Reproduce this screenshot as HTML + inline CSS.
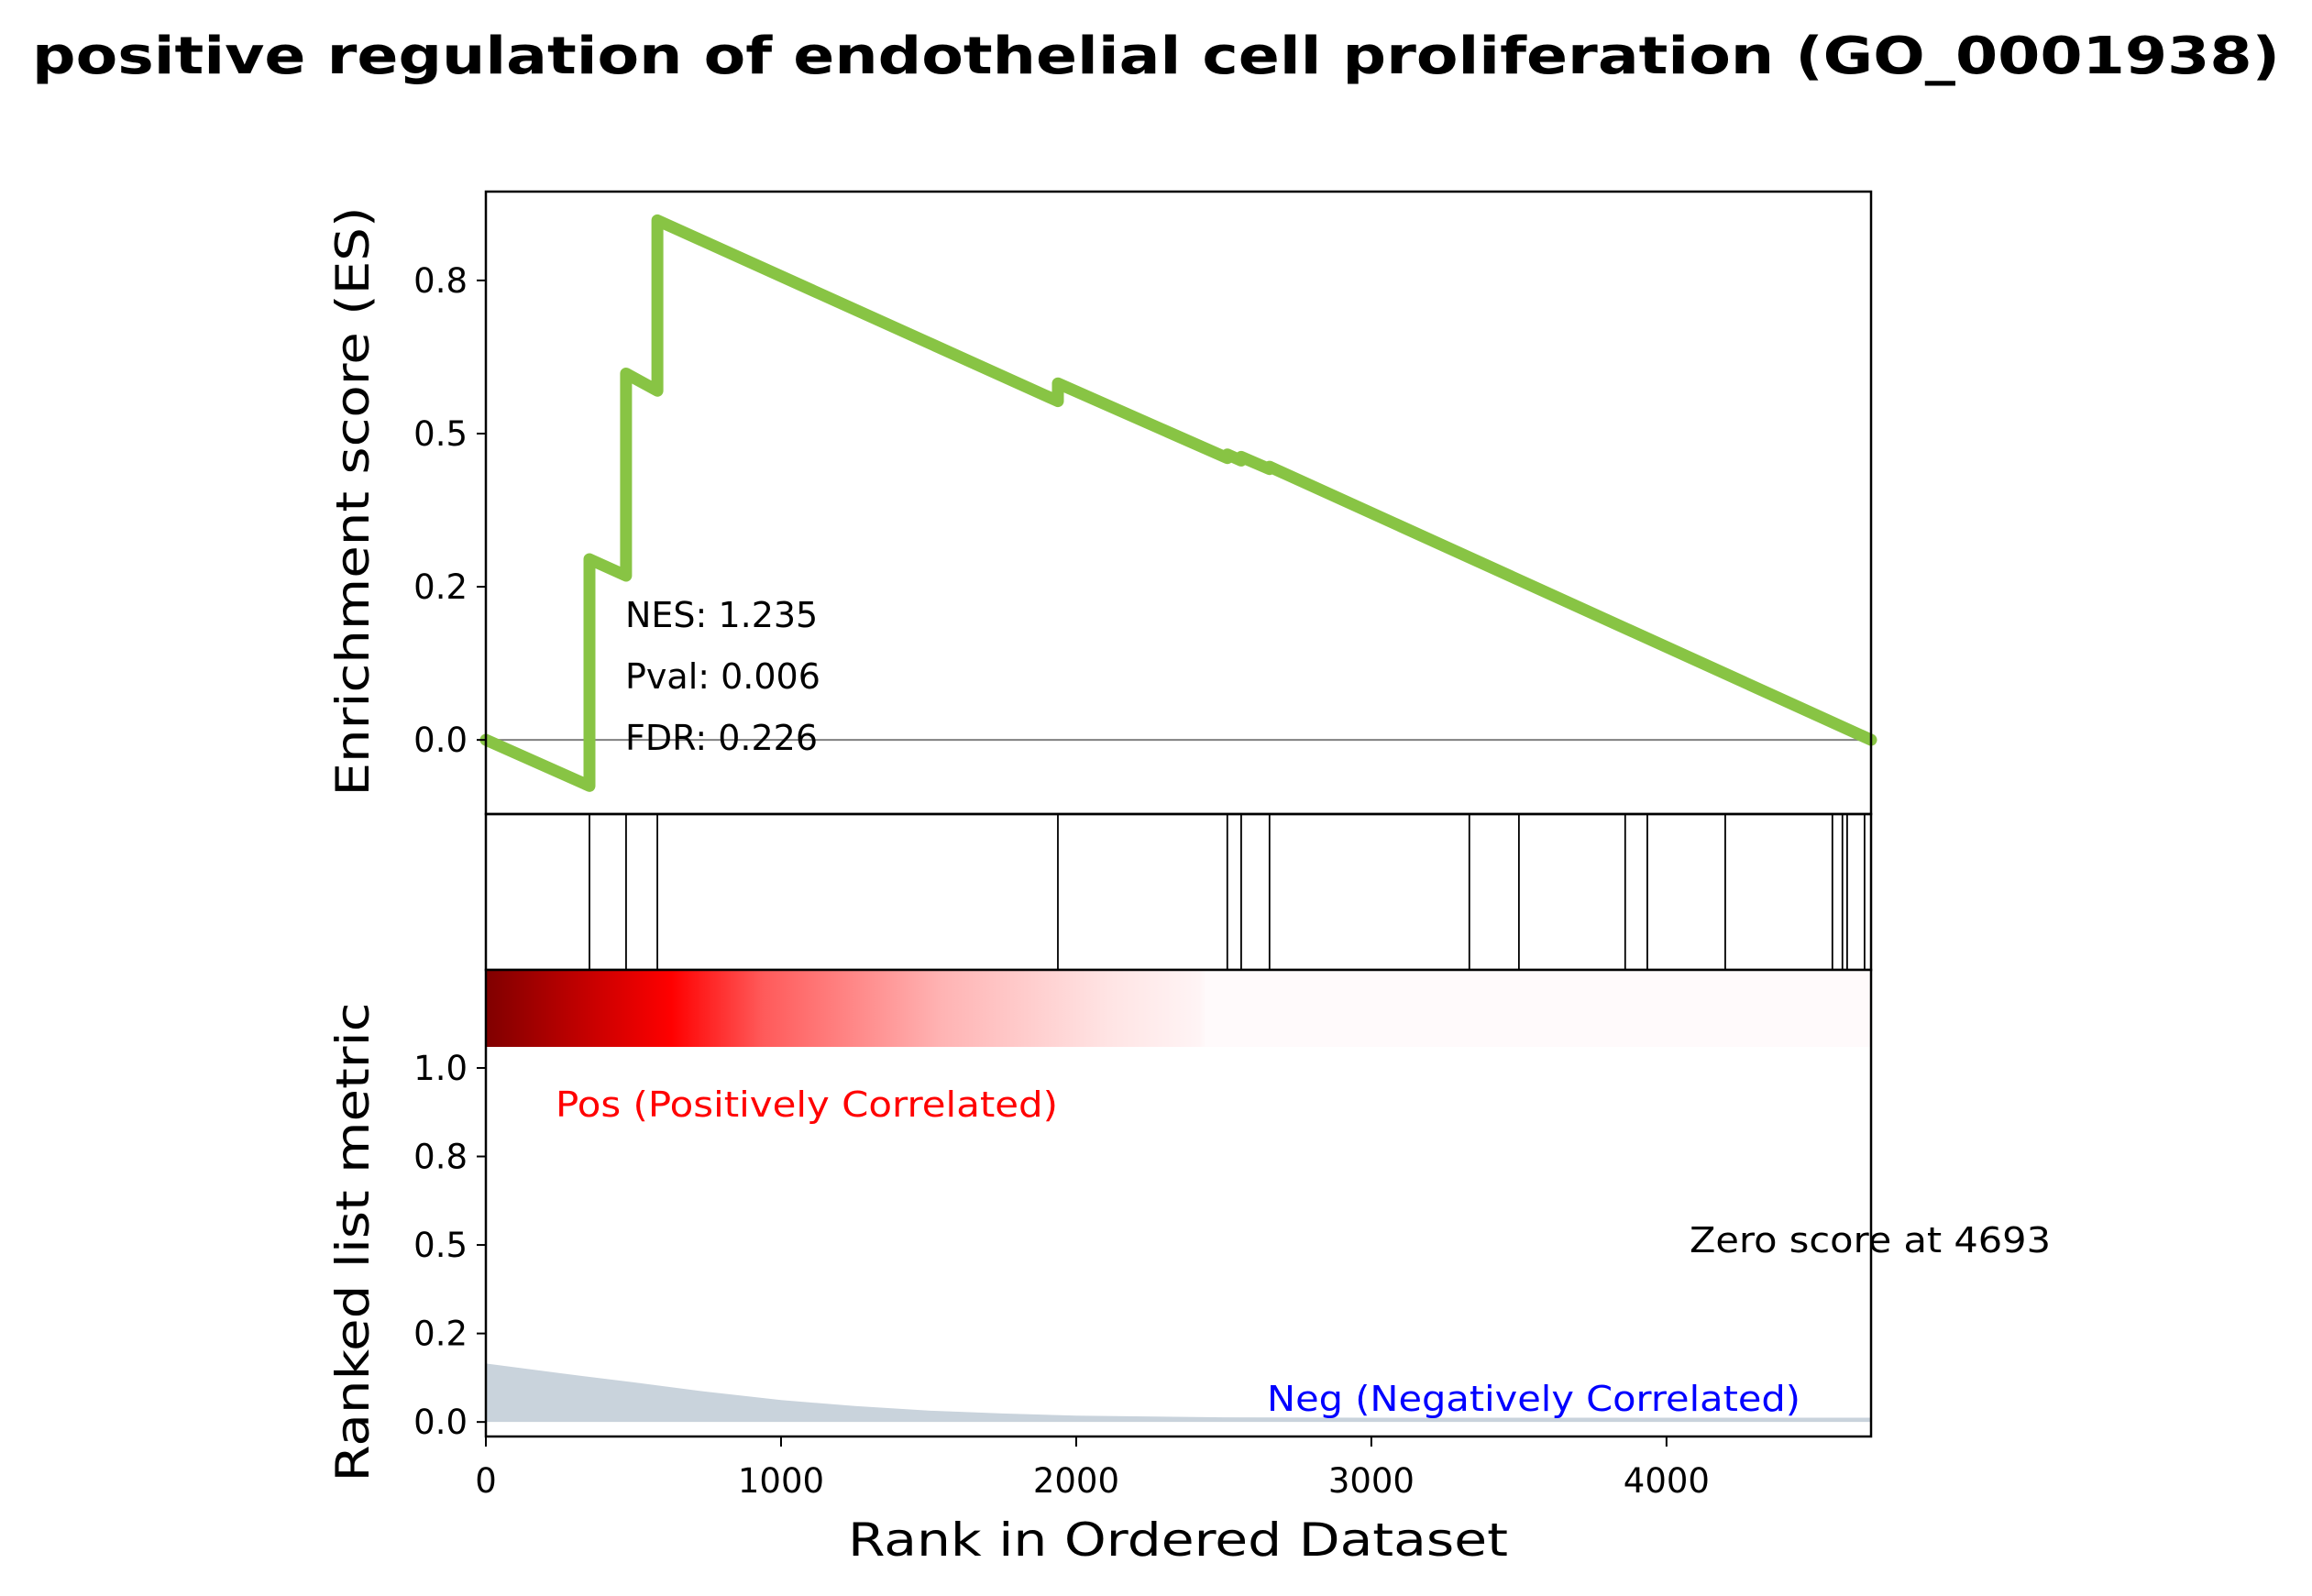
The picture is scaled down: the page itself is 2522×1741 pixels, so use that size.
<!DOCTYPE html>
<html><head><meta charset="utf-8"><style>
html,body{margin:0;padding:0;background:#fff;}
svg{display:block;font-family:"DejaVu Sans","Liberation Sans",sans-serif;}
</style></head><body>
<svg id="chart" width="2522" height="1741" viewBox="0 0 2522 1741" xmlns="http://www.w3.org/2000/svg">
<rect x="0" y="0" width="2522" height="1741" fill="#fff"/>
<text x="1261" y="80" text-anchor="middle" font-size="56" font-weight="bold" textLength="2452" lengthAdjust="spacingAndGlyphs">positive regulation of endothelial cell proliferation (GO_0001938)</text>
<defs>
<linearGradient id="rankGrad" x1="0" x2="1" y1="0" y2="0">
<stop offset="0" stop-color="#800000"/>
<stop offset="0.134" stop-color="#ff0000"/>
<stop offset="0.2" stop-color="#ff5a5a"/>
<stop offset="0.33" stop-color="#ffb4b4"/>
<stop offset="0.45" stop-color="#ffe4e4"/>
<stop offset="0.515" stop-color="#fff4f5"/>
<stop offset="0.52" stop-color="#fffafb"/>
<stop offset="1" stop-color="#fffafb"/>
</linearGradient>
</defs>
<g id="es-panel"></g>
<g id="hit-panel"></g>
<g id="rank-panel"></g>
<text transform="translate(402,547) rotate(-90)" text-anchor="middle" font-size="50" textLength="643" lengthAdjust="spacingAndGlyphs">Enrichment score (ES)</text>
<text transform="translate(402,1355) rotate(-90)" text-anchor="middle" font-size="50" textLength="523" lengthAdjust="spacingAndGlyphs">Ranked list metric</text>
<text x="1285" y="1697" text-anchor="middle" font-size="50" textLength="720" lengthAdjust="spacingAndGlyphs">Rank in Ordered Dataset</text>
</svg>
<script>
const NS='http://www.w3.org/2000/svg';
// ---- data ----
const totalRanks = 4693;
const hitRanks = [351,475,581,1938,2512,2559,2655,3332,3500,3860,3935,4199,4562,4596,4612,4671];
const esRanks = [0,351,351,475,475,581,581,1938,1938,2512,2512,2559,2559,2655,2655,4693];
const esValues = [0,-0.075,0.295,0.268,0.598,0.570,0.848,0.553,0.582,0.460,0.466,0.456,0.462,0.442,0.446,0];
const metricRanks = [0,250,500,750,1000,1250,1500,1750,2000,2500,3000,4000,4693];
const metricValues = [0.165,0.138,0.112,0.085,0.062,0.045,0.032,0.024,0.018,0.013,0.012,0.012,0.012];
const esTicks = [0,0.25,0.5,0.75];
const esTickLabels = ['0.0','0.2','0.5','0.8'];
const metricTicks = [0,0.25,0.5,0.75,1.0];
const metricTickLabels = ['0.0','0.2','0.5','0.8','1.0'];
const xTicks = [0,1000,2000,3000,4000];
const stats = ['NES: 1.235','Pval: 0.006','FDR: 0.226'];
// ---- layout ----
const L=530,R=2041;
const esTop=209,esBot=888,hitBot=1058,cbBot=1142,rkBot=1567;
const esMin=-0.121,esMax=0.895, mMin=-0.041,mMax=1.277;
const xS=r=>L+(r/totalRanks)*(R-L);
const yES=v=>esBot-(v-esMin)/(esMax-esMin)*(esBot-esTop);
const yM=v=>rkBot-(v-mMin)/(mMax-mMin)*(rkBot-hitBot);
function mk(tag,attrs,parent,txt){const e=document.createElementNS(NS,tag);for(const k in attrs)e.setAttribute(k,attrs[k]);if(txt!==undefined)e.textContent=txt;parent.appendChild(e);return e;}
const es=document.getElementById('es-panel'),hp=document.getElementById('hit-panel'),rp=document.getElementById('rank-panel');
let z=mk('line',{x1:L,x2:R,y1:yES(0),y2:yES(0),stroke:'#808080','stroke-width':2},es);


let d=esRanks.map((r,i)=>(i?'L':'M')+xS(r).toFixed(1)+','+yES(esValues[i]).toFixed(1)).join(' ');
let p=mk('path',{d:d,fill:'none',stroke:'#88c444','stroke-width':13,'stroke-linejoin':'round','stroke-linecap':'round'},es);


esTicks.forEach((t,i)=>{
  const y=yES(t);
  const tk=mk('line',{x1:L-10,x2:L,y1:y,y2:y,stroke:'#000','stroke-width':2},es);
  
  
  const tl=mk('text',{x:L-20,y:y+13,'text-anchor':'end','font-size':37},es,esTickLabels[i]);
  
  
});
stats.forEach((s,i)=>{
  const t=mk('text',{x:682,y:684+i*67,'font-size':38},es,s);
  
  
});
let f1=mk('rect',{x:L,y:esTop,width:R-L,height:esBot-esTop,fill:'none',stroke:'#000','stroke-width':2.5},es);


hitRanks.forEach(r=>{
  const l=mk('line',{x1:xS(r),x2:xS(r),y1:esBot,y2:hitBot,stroke:'#000','stroke-width':1.8},hp);
  
  
});
let f2=mk('rect',{x:L,y:esBot,width:R-L,height:hitBot-esBot,fill:'none',stroke:'#000','stroke-width':2.5},hp);


let cb=mk('rect',{x:L,y:hitBot,width:R-L,height:cbBot-hitBot,fill:'url(#rankGrad)'},rp);


let ad='M'+xS(0)+','+yM(0)+' '+metricRanks.map((r,i)=>'L'+xS(r).toFixed(1)+','+yM(metricValues[i]).toFixed(1)).join(' ')+' L'+xS(totalRanks)+','+yM(0)+' Z';
let ar=mk('path',{d:ad,fill:'#c9d3dc'},rp);


metricTicks.forEach((t,i)=>{
  const y=yM(t);
  const tk=mk('line',{x1:L-10,x2:L,y1:y,y2:y,stroke:'#000','stroke-width':2},rp);
  
  
  const tl=mk('text',{x:L-20,y:y+13,'text-anchor':'end','font-size':37},rp,metricTickLabels[i]);
  
  
});
xTicks.forEach(t=>{
  const x=xS(t);
  const tk=mk('line',{x1:x,x2:x,y1:rkBot,y2:rkBot+11,stroke:'#000','stroke-width':2},rp);
  
  
  const tl=mk('text',{x:x,y:1628,'text-anchor':'middle','font-size':37},rp,String(t));
  
  
});
let pos=mk('text',{x:606,y:1218,'font-size':38,fill:'#ff0000',textLength:548,lengthAdjust:'spacingAndGlyphs'},rp,'Pos (Positively Correlated)');


let neg=mk('text',{x:1382,y:1539,'font-size':38,fill:'#0000ff',textLength:582,lengthAdjust:'spacingAndGlyphs'},rp,'Neg (Negatively Correlated)');


let zs=mk('text',{x:1843,y:1366,'font-size':38,textLength:394,lengthAdjust:'spacingAndGlyphs'},rp,'Zero score at '+totalRanks);


let f3=mk('rect',{x:L,y:hitBot,width:R-L,height:rkBot-hitBot,fill:'none',stroke:'#000','stroke-width':2.5},rp);


</script>
</body></html>
